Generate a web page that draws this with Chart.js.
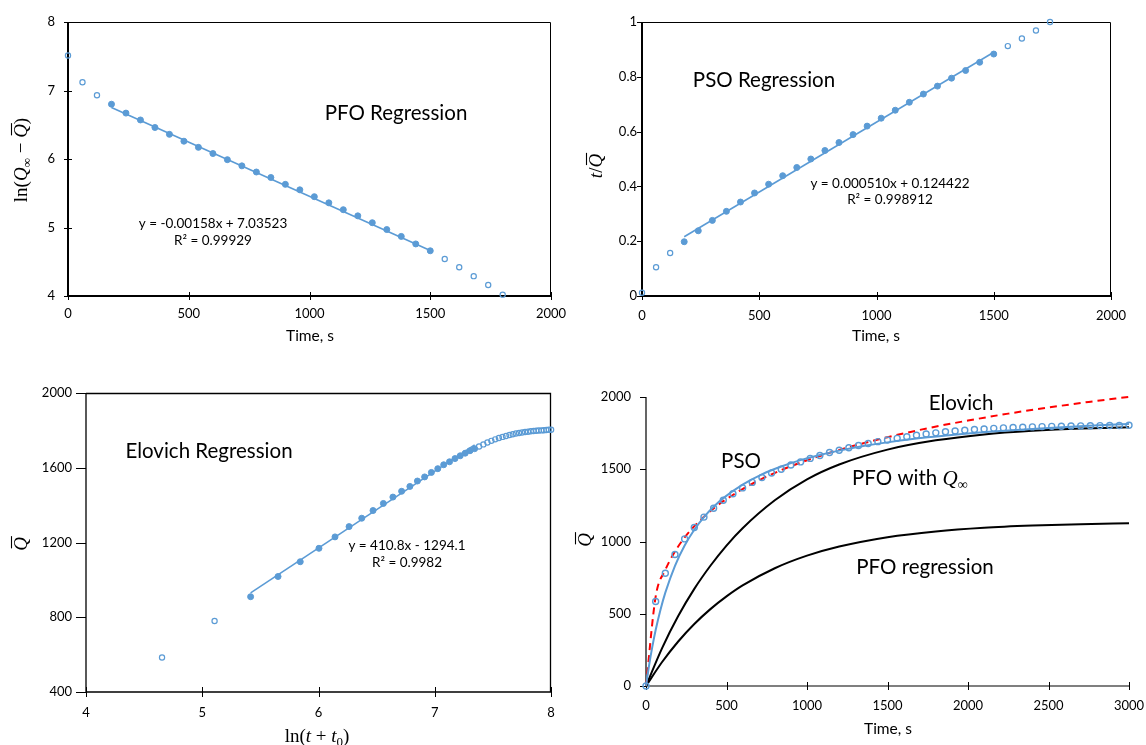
<!DOCTYPE html>
<html>
<head>
<meta charset="utf-8">
<script src="https://cdn.jsdelivr.net/npm/chart.js@4.4.1/dist/chart.umd.min.js"></script>
<style>
  html, body { margin: 0; padding: 0; background: #fff; }
  #wrap { position: relative; width: 1146px; height: 745px; }
  #wrap canvas { position: absolute; left: 0; top: 0; }
</style>
</head>
<body>
<div id="wrap">
  <canvas id="pfo" width="1146" height="745"></canvas>
  <canvas id="pso" width="1146" height="745"></canvas>
  <canvas id="elo" width="1146" height="745"></canvas>
  <canvas id="cmp" width="1146" height="745"></canvas>
</div>
<script>
const BLUE = '#5B9BD5';
const SANS = 'Lato';
const SERIF = '"Liberation Serif"';

// ---- PFO regression: ln(Qinf - Q) vs time ----
const pfoTime = [0,60,120,180,240,300,360,420,480,540,600,660,720,780,840,900,960,1020,1080,1140,1200,1260,1320,1380,1440,1500,1560,1620,1680,1740,1800];
const pfoLn = [7.51,7.12,6.93,6.80,6.67,6.57,6.46,6.36,6.26,6.17,6.08,5.99,5.90,5.81,5.73,5.63,5.55,5.45,5.36,5.26,5.17,5.07,4.97,4.87,4.76,4.66,4.54,4.42,4.29,4.16,4.02];
const pfoFitX = [180, 1500];
const pfoFitY = [6.751, 4.665];

// ---- PSO regression: t / Q vs time ----
const psoTime = [0,60,120,180,240,300,360,420,480,540,600,660,720,780,840,900,960,1020,1080,1140,1200,1260,1320,1380,1440,1500,1560,1620,1680,1740];
const psoRatio = [0.012,0.105,0.157,0.198,0.238,0.276,0.309,0.343,0.376,0.408,0.439,0.469,0.500,0.531,0.560,0.589,0.620,0.649,0.678,0.707,0.737,0.766,0.795,0.823,0.853,0.883,0.912,0.940,0.969,1.000];
const psoFitX = [180, 1500];
const psoFitY = [0.2162, 0.8894];

// fitted window (s) used in all three regressions
const fitFrom = 180, fitTo = 1500;

// ---- measured uptake Q vs time ----
const expTime = [0,60,120,180,240,300,360,420,480,540,600,660,720,780,840,900,960,1020,1080,1140,1200,1260,1320,1380,1440,1500,1560,1620,1680,1740,1800,1860,1920,1980,2040,2100,2160,2220,2280,2340,2400,2460,2520,2580,2640,2700,2760,2820,2880,2940,3000];
const expQ = [0,585,780,910,1018,1097,1169,1230,1285,1330,1371,1409,1443,1474,1500,1529,1551,1575,1595,1616,1632,1649,1664,1678,1691,1702,1714,1725,1735,1744,1752,1759,1765,1770,1775,1779,1783,1786,1789,1791,1793,1795,1797,1798,1799,1800,1801,1802,1803,1803,1804];

// ---- Elovich regression: Q vs ln(t + t0), t from 60 s ----
const eloLnT = [4.654,5.106,5.416,5.652,5.843,6.004,6.142,6.263,6.372,6.469,6.558,6.640,6.715,6.786,6.851,6.913,6.971,7.026,7.077,7.127,7.174,7.219,7.262,7.303,7.343,7.381,7.418,7.453,7.487,7.520,7.552,7.583,7.613,7.643,7.671,7.698,7.725,7.751,7.777,7.802,7.826,7.850,7.873,7.895,7.918,7.939,7.960,7.981,8.001,8.021];
const eloFitX = [5.416, 7.343];
const eloFitY = [930.8, 1722.4];

// ---- model curves ----
const psoCurveT = [0,20,40,60,90,120,180,240,300,360,420,480,600,720,840,960,1080,1200,1350,1500,1750,2000,2250,2500,2750,3000];
const psoCurveQ = [0,149,276,387,528,646,832,972,1081,1169,1240,1300,1394,1465,1519,1563,1599,1629,1661,1686,1721,1748,1769,1786,1801,1813];
const eloCurveT = [0,60,120,180,240,300,360,420,480,600,720,840,960,1080,1200,1350,1500,1750,2000,2250,2500,2750,3000];
const eloCurveQ = [0,618,803,931,1028,1106,1172,1229,1279,1363,1434,1494,1546,1592,1634,1680,1722,1784,1837,1885,1927,1966,2001];
const pfoCurveT = [0,100,200,300,400,500,600,800,1000,1200,1500,1800,2100,2400,2700,3000];
const pfoInfQ = [0,262,484,672,832,972,1092,1285,1430,1533,1636,1700,1741,1766,1782,1790];
const pfoRegQ = [0,166,308,429,532,620,696,815,902,965,1030,1070,1095,1110,1120,1126];

function pts(xs, ys, keep) {
  const out = [];
  xs.forEach((x, i) => { if (!keep || keep(i)) out.push({ x: x, y: ys[i] }); });
  return out;
}

function filled(data) {
  return { data, pointRadius: 3, pointBackgroundColor: BLUE, pointBorderColor: BLUE, pointBorderWidth: 1, clip: 8 };
}
function hollow(data, r, w) {
  return { data, pointRadius: r || 2.6, pointBackgroundColor: 'rgba(0,0,0,0)', pointBorderColor: BLUE, pointBorderWidth: w || 1.2, clip: 8 };
}
function curve(data, color, width, dash, smooth) {
  return { data, showLine: true, pointRadius: 0, borderColor: color, borderWidth: width,
    borderDash: dash || [], cubicInterpolationMode: smooth ? 'monotone' : 'default', clip: 8 };
}

function axis(min, max, step, pad, horizontal) {
  return {
    type: 'linear', min, max,
    grid: { display: false, drawTicks: false },
    border: { display: false },
    ticks: { stepSize: step, padding: pad, color: '#000', font: { family: SANS, size: 13 },
      callback: v => String(+v.toFixed(2)) },
    afterFit(s) {
      if (horizontal) s.height = 40; else s.width = 60;
      s.paddingLeft = s.paddingRight = s.paddingTop = s.paddingBottom = 0;
    }
  };
}

// draws a run of differently styled pieces of text, centred (or left aligned) on x,y
function rich(ctx, segs, x, y, rot, left) {
  ctx.save();
  ctx.translate(x, y);
  if (rot) ctx.rotate(-Math.PI / 2);
  let w = 0;
  segs.forEach(s => { ctx.font = s.f; w += ctx.measureText(s.t).width; });
  let cx = left ? 0 : -w / 2;
  ctx.fillStyle = '#000';
  ctx.strokeStyle = '#000';
  ctx.textAlign = 'left';
  ctx.textBaseline = 'alphabetic';
  segs.forEach(s => {
    ctx.font = s.f;
    const sw = ctx.measureText(s.t).width;
    const base = 6 + (s.dy || 0);
    ctx.fillText(s.t, cx, base);
    if (s.bar) {
      ctx.lineWidth = 1.1;
      ctx.beginPath();
      ctx.moveTo(cx + 2.5, base - 15.5);
      ctx.lineTo(cx + sw + 1, base - 15.5);
      ctx.stroke();
    }
    cx += sw;
  });
  ctx.restore();
}

const framePlugin = {
  id: 'frame',
  beforeDatasetsDraw(chart, args, o) {
    const { ctx, chartArea: a, scales: { x, y } } = chart;
    ctx.save();
    ctx.strokeStyle = '#000';
    if (o.box) {
      ctx.lineWidth = o.boxW;
      ctx.beginPath();
      ctx.moveTo(a.left, a.top + 0.5);
      ctx.lineTo(a.right - 0.5, a.top + 0.5);
      ctx.lineTo(a.right - 0.5, a.bottom);
      ctx.stroke();
    }
    ctx.lineWidth = o.axisW;
    ctx.beginPath();
    ctx.moveTo(a.left, a.top);
    ctx.lineTo(a.left, a.bottom);
    ctx.lineTo(a.right, a.bottom);
    ctx.stroke();
    ctx.lineWidth = 1;
    ctx.beginPath();
    x.ticks.forEach(t => {
      const p = Math.round(x.getPixelForValue(t.value)) + 0.5;
      ctx.moveTo(p, a.bottom - o.xTick[0]);
      ctx.lineTo(p, a.bottom + o.xTick[1]);
    });
    y.ticks.forEach(t => {
      const p = Math.round(y.getPixelForValue(t.value)) + 0.5;
      ctx.moveTo(a.left - o.yTick[1], p);
      ctx.lineTo(a.left + o.yTick[0], p);
    });
    ctx.stroke();
    ctx.restore();
  }
};

const notesPlugin = {
  id: 'notes',
  afterDraw(chart, args, o) {
    const ctx = chart.ctx;
    (o.items || []).forEach(n => {
      if (n.segs) { rich(ctx, n.segs, n.x, n.y, n.rot, n.left); return; }
      ctx.save();
      ctx.fillStyle = '#000';
      ctx.font = n.f;
      ctx.textAlign = n.left ? 'left' : 'center';
      ctx.textBaseline = 'middle';
      ctx.fillText(n.t, n.x, n.y);
      ctx.restore();
    });
  }
};

function panel(id, box, xs, ys, datasets, frame, items) {
  return new Chart(document.getElementById(id), {
    type: 'scatter',
    data: { datasets },
    plugins: [framePlugin, notesPlugin],
    options: {
      responsive: false, animation: false, devicePixelRatio: 1, events: [],
      layout: { padding: { left: box.L - 60, top: box.T, right: 1146 - box.R, bottom: 745 - box.B - 40 } },
      plugins: { legend: { display: false }, tooltip: { enabled: false }, frame, notes: { items } },
      scales: { x: xs, y: ys }
    }
  });
}

const big = '20.5px ' + SANS;
const eq = '13.5px ' + SANS;
const ttl = '15.5px ' + SANS;
const mUp = '19px ' + SERIF;
const mIt = 'italic 19px ' + SERIF;
const mSub = '13px ' + SERIF;

const inFit = t => t >= fitFrom && t <= fitTo;

panel('pfo', { L: 68, R: 551, T: 22, B: 296 },
  axis(0, 2000, 500, 10, true), axis(4, 8, 1, 13, false),
  [
    filled(pts(pfoTime, pfoLn, i => inFit(pfoTime[i]))),
    hollow(pts(pfoTime, pfoLn, i => !inFit(pfoTime[i]))),
    curve(pts(pfoFitX, pfoFitY), BLUE, 1.6)
  ],
  { box: true, boxW: 1, axisW: 2, xTick: [4, 4], yTick: [4, 4] },
  [
    { t: 'PFO Regression', f: big, x: 396, y: 113 },
    { t: 'y = -0.00158x + 7.03523', f: eq, x: 213, y: 224 },
    { t: 'R² = 0.99929', f: eq, x: 213, y: 241 },
    { t: 'Time, s', f: ttl, x: 310, y: 336 },
    { rot: true, x: 21, y: 160, segs: [
      { t: 'ln(', f: mUp }, { t: 'Q', f: mIt }, { t: '∞', f: mSub, dy: 4 },
      { t: ' − ', f: mUp }, { t: 'Q', f: mIt, bar: true }, { t: ')', f: mUp }] }
  ]);

panel('pso', { L: 642, R: 1111, T: 22, B: 296 },
  axis(0, 2000, 500, 12, true), axis(0, 1, 0.2, 5, false),
  [
    filled(pts(psoTime, psoRatio, i => inFit(psoTime[i]))),
    hollow(pts(psoTime, psoRatio, i => !inFit(psoTime[i]))),
    curve(pts(psoFitX, psoFitY), BLUE, 1.6)
  ],
  { box: true, boxW: 1, axisW: 2, xTick: [4, 4], yTick: [0, 5] },
  [
    { t: 'PSO Regression', f: big, x: 764, y: 80.5 },
    { t: 'y = 0.000510x + 0.124422', f: eq, x: 890, y: 183.5 },
    { t: 'R² = 0.998912', f: eq, x: 890, y: 199.5 },
    { t: 'Time, s', f: ttl, x: 876, y: 336 },
    { rot: true, x: 596, y: 166, segs: [
      { t: 't', f: mIt }, { t: '/', f: mUp }, { t: 'Q', f: mIt, bar: true }] }
  ]);

const eloTime = expTime.slice(1);
const eloQ = expQ.slice(1);
panel('elo', { L: 86, R: 551, T: 393, B: 692 },
  axis(4, 8, 1, 13, true), axis(400, 2000, 400, 14, false),
  [
    filled(pts(eloLnT, eloQ, i => inFit(eloTime[i]))),
    hollow(pts(eloLnT, eloQ, i => !inFit(eloTime[i]))),
    curve(pts(eloFitX, eloFitY), BLUE, 1.6)
  ],
  { box: true, boxW: 1.3, axisW: 1.3, xTick: [5, 5], yTick: [0, 10] },
  [
    { t: 'Elovich Regression', f: big, x: 209, y: 451.5 },
    { t: 'y = 410.8x - 1294.1', f: eq, x: 407, y: 546 },
    { t: 'R² = 0.9982', f: eq, x: 407, y: 563 },
    { x: 317, y: 736, segs: [
      { t: 'ln(', f: mUp }, { t: 't', f: mIt }, { t: ' + ', f: mUp }, { t: 't', f: mIt },
      { t: '0', f: mSub, dy: 4 }, { t: ')', f: mUp }] },
    { rot: true, x: 21, y: 544, segs: [{ t: 'Q', f: mIt, bar: true }] }
  ]);

panel('cmp', { L: 646, R: 1129, T: 397, B: 686 },
  axis(0, 3000, 500, 12, true), axis(0, 2000, 500, 15, false),
  [
    hollow(pts(expTime, expQ), 3, 1.4),
    curve(pts(psoCurveT, psoCurveQ), BLUE, 2, null, true),
    curve(pts(eloCurveT, eloCurveQ), '#FF0000', 2, [7, 5], true),
    curve(pts(pfoCurveT, pfoInfQ), '#000', 2, null, true),
    curve(pts(pfoCurveT, pfoRegQ), '#000', 2, null, true)
  ],
  { box: false, axisW: 1.2, xTick: [4, 4], yTick: [0, 6] },
  [
    { t: 'Elovich', f: big, x: 961, y: 403 },
    { t: 'PSO', f: big, x: 741, y: 461 },
    { x: 852, y: 479, left: true, segs: [
      { t: 'PFO with ', f: big }, { t: 'Q', f: 'italic 21px ' + SERIF }, { t: '∞', f: '14px ' + SERIF, dy: 4 }] },
    { t: 'PFO regression', f: big, x: 925, y: 567.5 },
    { t: 'Time, s', f: ttl, x: 888, y: 729 },
    { rot: true, x: 585, y: 540, segs: [{ t: 'Q', f: mIt, bar: true }] }
  ]);
</script>
</body>
</html>
